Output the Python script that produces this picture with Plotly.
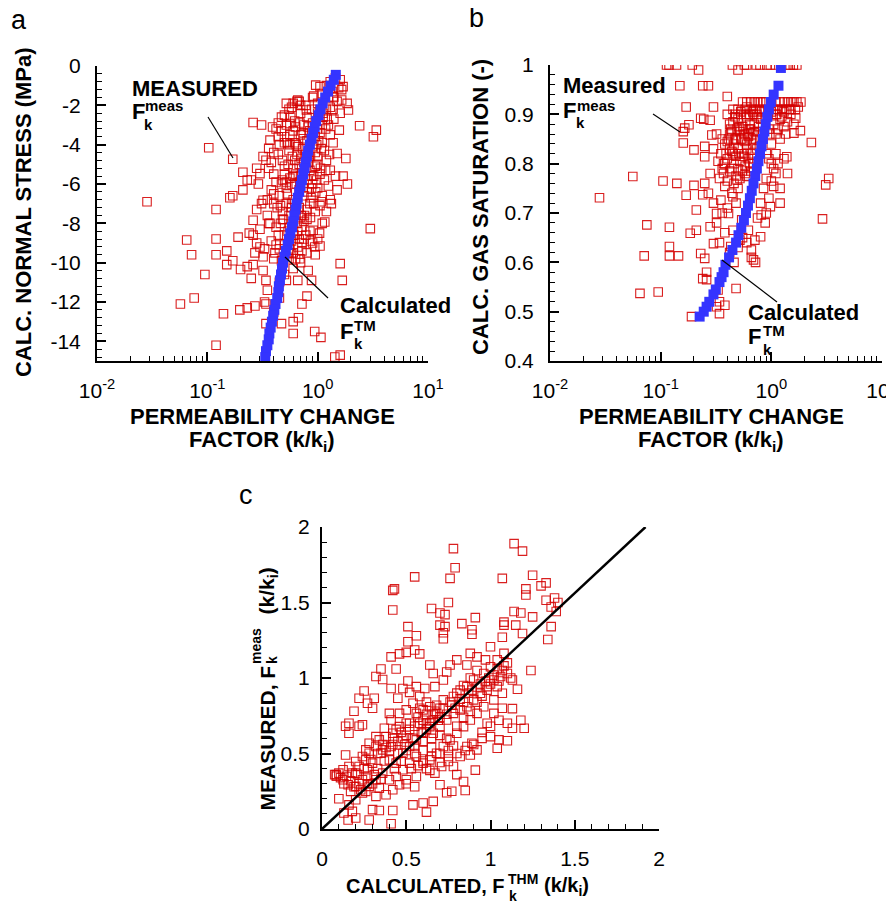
import plotly.graph_objects as go

# the page body has an 8px margin, so the figure is drawn 8px in from the corner
OFF = 8
W, H = 894 - OFF, 902 - OFF

# ---------------- data ----------------
# Panel a: permeability change factor (x) vs calc. normal stress (y)
red_a_x = [
    0.0284, 0.103, 0.17, 0.26, 0.31, 0.39, 0.21, 0.28, 0.23, 0.25,
    0.16, 0.17, 0.21, 0.12, 0.065, 0.072, 0.12, 0.12, 0.15, 0.15,
    0.19, 0.095, 0.076, 0.057, 0.12, 0.14, 0.197, 0.23, 0.27, 0.25,
    0.20, 0.17, 0.23, 0.34, 0.34, 0.34, 0.47, 0.60, 0.67, 0.60,
    0.72, 0.80, 0.66, 0.82, 0.88, 0.94, 1.07, 1.6, 1.67, 1.6,
    1.43, 3.0, 3.2, 3.4, 2.4, 1.9, 1.85, 1.86, 1.7, 1.8,
    1.5, 1.5, 1.33, 1.04, 1.16, 0.91, 0.94, 1.05, 0.86, 0.69,
    0.58, 1.57, 1.65, 1.3, 1.39, 1.05, 0.92, 0.96, 1.6, 1.7,
    1.65, 0.79, 0.68, 0.66, 0.56, 0.37, 0.36, 0.34, 0.30, 0.32,
    0.28, 0.26, 0.24, 0.30, 0.27, 0.26, 0.32,
    0.5, 0.55, 0.6, 0.62, 0.7, 0.75, 0.8, 0.85, 0.9, 0.95,
    1.0, 1.05, 1.1, 1.2, 1.25, 1.15, 1.0, 0.9, 0.8, 0.7,
    0.6, 0.5, 0.45, 0.4, 0.48, 0.55, 0.65, 0.75, 0.85, 0.95,
    1.05, 1.15, 1.25, 1.1, 1.0, 0.9, 0.8, 0.7, 0.6, 0.5,
    0.42, 0.38, 0.45, 0.52, 0.6, 0.68, 0.75, 0.85, 0.95, 1.05,
    0.8, 0.72, 0.65, 0.55, 0.48, 0.4, 0.35, 0.42, 0.5, 0.58,
    0.66, 0.75, 0.85, 0.9, 0.45, 0.38, 0.33, 0.4, 0.3, 0.36,
    0.42, 0.47, 0.58, 0.65, 0.9, 1.1, 1.2, 1.3, 1.45, 1.55,
    1.4, 1.3, 1.4, 1.3, 1.2, 1.3, 1.45, 1.3, 1.2, 1.1,
    1.0, 0.95, 0.8, 0.7, 0.6, 0.5, 0.45, 0.35, 0.33, 0.4,
    0.45, 0.52, 0.55, 0.6, 0.32, 0.28, 0.26, 0.31, 0.35, 0.29,
    0.32, 0.38, 0.44, 0.52, 0.56, 0.62, 0.68, 0.73, 0.78, 0.86,
    0.98, 1.05, 0.68, 0.58, 0.62, 0.52, 0.46, 0.56,
    0.44, 0.5, 0.56, 0.62, 0.7, 0.78, 0.88, 1.0, 0.48, 0.54,
    0.6, 0.66, 0.74, 0.82, 0.92, 0.4, 0.46, 0.52, 0.58, 0.64,
    0.7, 0.36, 0.42, 0.48, 0.54, 0.6, 0.66, 0.72, 1.12, 1.22,
    1.35, 1.5, 1.6, 0.88, 0.98, 1.08, 1.18, 1.28, 1.38, 0.76,
    0.52, 0.57, 0.63, 0.69, 0.74, 0.82, 0.88, 0.47, 0.53, 0.59,
    0.64, 0.71, 0.77, 0.83, 0.44, 0.5, 0.56, 0.63, 0.69, 0.74,
    0.81, 0.87, 0.4, 0.47, 0.53, 0.58, 0.64, 0.71, 0.43, 0.49,
    0.54, 0.61, 0.68, 0.37, 0.44, 0.5, 0.56, 0.63, 0.41, 0.47,
    1.0, 1.12, 1.18, 1.1, 1.02, 1.08, 0.95, 0.98, 1.06, 0.92,
    0.96, 0.88, 0.92, 0.8, 0.86, 0.75, 0.78, 0.72, 1.25, 1.38,
]
red_a_y = [
    -6.9, -4.16, -4.74, -2.87, -3.0, -3.1, -5.4, -5.2, -5.8, -5.8,
    -6.7, -6.6, -6.3, -7.3, -8.85, -9.6, -8.8, -9.6, -9.4, -10.1,
    -8.7, -10.6, -11.8, -12.1, -14.2, -12.6, -12.4, -12.3, -12.2, -10.8,
    -10.35, -9.9, -10.2, -10.9, -12.1, -13.1, -13.1, -13.0, -12.8, -13.6,
    -12.1, -11.7, -10.9, -10.4, -10.9, -13.5, -13.8, -10.05, -10.9, -14.7,
    -14.8, -8.27, -3.6, -3.26, -3.04, -2.24, -1.9, -6.0, -5.6, -4.7,
    -6.3, -4.45, -7.0, -8.5, -7.93, -8.35, -9.2, -9.15, -8.9, -9.8,
    -9.55, -3.26, -1.73, -1.05, -1.56, -1.05, -1.53, -0.97, -0.7, -1.05,
    -1.2, -2.24, -1.8, -1.73, -2.92, -3.77, -4.19, -4.79, -5.47, -6.83,
    -7.3, -7.84, -8.5, -9.2, -9.5, -10.1, -9.7,
    -2.5, -2.2, -1.9, -2.8, -2.4, -3.0, -2.6, -3.3, -2.9, -3.6,
    -3.2, -2.6, -3.9, -2.2, -3.0, -4.3, -4.6, -4.1, -3.8, -3.5,
    -3.3, -3.6, -4.0, -4.4, -4.8, -4.3, -4.5, -4.9, -5.3, -5.1,
    -5.5, -5.8, -6.1, -6.6, -6.2, -6.0, -5.8, -5.6, -5.2, -5.5,
    -5.9, -6.3, -6.6, -6.2, -6.8, -7.2, -6.6, -7.0, -7.4, -7.1,
    -7.8, -8.2, -8.0, -7.6, -7.4, -7.0, -7.6, -8.2, -8.6, -8.9,
    -9.2, -8.8, -8.4, -9.0, -9.3, -8.9, -9.3, -9.8, -8.3, -5.2,
    -3.2, -2.6, -2.1, -1.8, -1.6, -1.4, -1.0, -0.8, -0.6, -1.1,
    -1.6, -2.1, -2.7, -3.5, -4.8, -5.3, -5.6, -6.8, -7.4, -8.0,
    -8.8, -9.6, -9.5, -10.0, -10.3, -10.6, -11.0, -11.4, -12.0, -12.5,
    -11.8, -10.9, -9.8, -9.5, -10.4, -9.0, -8.6, -7.0, -6.8, -6.0,
    -4.6, -4.9, -3.6, -3.0, -4.0, -4.8, -5.0, -4.2, -5.2, -4.6,
    -4.0, -3.4, -6.3, -6.0, -7.5, -7.0, -8.0, -8.2,
    -2.9, -3.9, -3.5, -3.9, -2.0, -2.0, -2.2, -2.4, -5.8, -5.0,
    -5.6, -4.1, -3.7, -4.4, -3.4, -6.5, -7.1, -5.9, -7.2, -6.0,
    -7.7, -8.0, -9.1, -7.8, -9.5, -8.6, -8.4, -9.4, -2.6, -2.7,
    -1.3, -1.8, -2.4, -5.6, -5.8, -6.9, -5.3, -4.5, -3.9, -7.6,
    -1.9, -2.6, -3.1, -2.9, -3.4, -3.1, -3.7, -3.3, -3.9, -4.6,
    -4.0, -4.7, -4.5, -4.9, -4.5, -5.1, -5.7, -5.5, -5.9, -6.2,
    -6.4, -6.7, -5.5, -6.0, -6.5, -7.0, -7.3, -7.6, -7.2, -7.8,
    -8.4, -8.6, -8.8, -8.0, -8.6, -9.1, -9.3, -9.8, -9.5, -9.9,
    -1.9, -2.4, -3.2, -3.0, -3.8, -4.2, -4.4, -5.0, -5.2, -5.6,
    -6.4, -6.2, -7.0, -7.3, -7.7, -7.9, -8.6, -9.0, -1.6, -2.2,
]
blue_a_y = [
    -0.45, -0.7, -1.0, -1.3, -1.6, -1.9, -2.2, -2.5, -2.8, -3.1,
    -3.4, -3.7, -4.0, -4.3, -4.6, -4.9, -5.2, -5.5, -5.8, -6.1,
    -6.4, -6.7, -7.0, -7.3, -7.6, -7.9, -8.2, -8.5, -8.8, -9.1,
    -9.4, -9.7, -10.0, -10.3, -10.6, -10.9, -11.2, -11.5, -11.8, -12.1,
    -12.4, -12.7, -13.0, -13.3, -13.6, -13.9, -14.2, -14.5, -14.8,
]
blue_a_x = [
    1.46, 1.40, 1.31, 1.24, 1.17, 1.11, 1.06, 1.02, 0.97, 0.94,
    0.91, 0.88, 0.85, 0.82, 0.80, 0.78, 0.76, 0.74, 0.72, 0.70,
    0.68, 0.66, 0.645, 0.63, 0.615, 0.60, 0.585, 0.565, 0.55, 0.535,
    0.515, 0.50, 0.485, 0.475, 0.465, 0.455, 0.445, 0.44, 0.43, 0.415,
    0.405, 0.395, 0.385, 0.375, 0.365, 0.36, 0.35, 0.34, 0.335,
]

# Panel b: permeability change factor (x) vs calc. gas saturation (y)
red_b_x = [
    0.113, 0.119, 0.139, 0.193, 0.445, 0.57, 0.6, 0.73, 0.79, 0.91,
    0.98, 1.09, 1.38, 1.48, 1.58, 1.7, 0.22, 0.5, 0.149, 0.24,
    0.27, 0.17, 0.3, 0.4, 0.16, 0.165, 0.18, 0.23, 0.245, 0.28,
    0.16, 0.2, 0.25, 0.25, 0.29, 0.056, 0.028, 0.105, 0.14, 0.17,
    0.2, 0.25, 0.24, 0.21, 0.21, 0.185, 0.075, 0.12, 0.12, 0.12,
    0.071, 0.145, 0.065, 0.095, 0.19, 0.23, 0.25, 0.26, 0.24, 0.26,
    0.33, 0.34, 0.32, 0.38, 0.34, 0.48, 2.3, 1.83, 1.66, 3.3,
    3.1, 2.9, 1.4, 1.2, 0.98, 0.81, 0.71, 0.66, 0.69, 0.8,
    0.88, 1.05, 1.38, 1.6, 0.45, 0.41, 0.32, 0.35, 0.38, 0.45,
    0.52, 0.43, 0.3, 0.28, 0.37, 0.49, 0.6, 0.54, 0.62,
    0.55, 0.6, 0.65, 0.7, 0.75, 0.8, 0.85, 0.9, 1.0, 1.1,
    1.2, 1.3, 1.4, 1.5, 1.6, 1.7, 1.85,
    0.45, 0.5, 0.58, 0.66, 0.72, 0.78, 0.88, 1.05, 1.15, 1.25,
    1.35, 1.5, 1.65,
    0.4, 0.45, 0.5, 0.55, 0.6, 0.65, 0.7, 0.75, 0.8, 0.42,
    0.48, 0.52, 0.58, 0.62, 0.68, 0.72, 0.78, 0.38, 0.44, 0.5,
    0.56, 0.6, 0.66, 0.4, 0.46, 0.52, 0.58, 0.64, 0.7, 0.35,
    0.36, 0.42, 0.48, 0.55, 0.62, 0.33, 0.3, 0.32, 0.28, 0.95,
    1.05, 1.1, 1.2, 1.3, 1.5, 1.6, 1.0, 1.1, 1.2, 0.95,
    1.05, 0.9, 1.0, 1.1, 0.85, 0.95, 0.8, 0.9, 0.75, 1.2,
    1.3, 0.44, 0.5, 0.48, 0.4, 0.36, 0.32, 0.3, 0.27, 0.38,
    0.34, 0.42, 0.46, 0.5, 0.55, 0.6, 0.66, 0.72,
    0.47, 0.53, 0.59, 0.64, 0.69, 0.74, 0.43, 0.49, 0.56, 0.63,
    0.41, 0.47, 0.54, 0.61, 0.68, 0.39, 0.45, 0.51, 0.57, 0.37,
    0.42, 0.47, 0.53, 0.6, 0.68, 0.74, 0.82, 0.92, 1.0, 1.12,
    1.24, 1.4, 0.44, 0.51, 0.57, 0.64, 0.7, 0.77, 0.84, 0.4,
    0.46, 0.53, 0.6, 0.66, 0.74, 0.36, 0.42, 0.48, 0.54, 0.62,
    0.68, 0.38, 0.44, 0.5, 0.58, 0.65, 0.34, 0.4, 0.46, 0.52,
    1.1, 1.3, 1.45, 1.75, 0.97, 1.15, 1.35, 1.0, 1.15, 0.9,
]
red_b_y = [
    1.0, 1.0, 1.0, 1.0, 1.0, 1.0, 1.0, 1.0, 1.0, 1.0,
    1.0, 1.0, 1.0, 1.0, 1.0, 1.0, 0.99, 0.99, 0.958, 0.958,
    0.958, 0.915, 0.915, 0.936, 0.865, 0.872, 0.879, 0.892, 0.89, 0.888,
    0.842, 0.828, 0.835, 0.814, 0.858, 0.774, 0.731, 0.765, 0.76, 0.736,
    0.756, 0.76, 0.737, 0.706, 0.665, 0.659, 0.676, 0.671, 0.632, 0.613,
    0.613, 0.613, 0.537, 0.54, 0.49, 0.618, 0.608, 0.58, 0.567, 0.565,
    0.544, 0.52, 0.51, 0.513, 0.496, 0.547, 0.843, 0.867, 0.892, 0.77,
    0.757, 0.688, 0.78, 0.72, 0.713, 0.696, 0.645, 0.625, 0.605, 0.652,
    0.68, 0.754, 0.814, 0.862, 0.665, 0.699, 0.699, 0.726, 0.754, 0.733,
    0.645, 0.632, 0.638, 0.672, 0.78, 0.767, 0.774, 0.686, 0.665,
    0.925, 0.925, 0.925, 0.925, 0.925, 0.925, 0.925, 0.925, 0.925, 0.925,
    0.925, 0.925, 0.925, 0.925, 0.925, 0.925, 0.925,
    0.91, 0.91, 0.91, 0.91, 0.91, 0.91, 0.91, 0.91, 0.91, 0.91,
    0.91, 0.91, 0.91,
    0.9, 0.885, 0.89, 0.875, 0.895, 0.87, 0.88, 0.865, 0.89, 0.86,
    0.85, 0.865, 0.845, 0.855, 0.84, 0.85, 0.835, 0.84, 0.825, 0.83,
    0.815, 0.83, 0.82, 0.81, 0.8, 0.805, 0.795, 0.8, 0.81, 0.82,
    0.79, 0.785, 0.775, 0.785, 0.775, 0.805, 0.83, 0.86, 0.78, 0.87,
    0.88, 0.86, 0.89, 0.875, 0.9, 0.88, 0.84, 0.82, 0.85, 0.81,
    0.79, 0.77, 0.765, 0.78, 0.75, 0.73, 0.72, 0.7, 0.69, 0.75,
    0.81, 0.74, 0.75, 0.72, 0.71, 0.7, 0.68, 0.72, 0.74, 0.66,
    0.64, 0.62, 0.6, 0.63, 0.65, 0.64, 0.61, 0.6,
    0.9, 0.9, 0.9, 0.9, 0.9, 0.9, 0.87, 0.87, 0.87, 0.87,
    0.85, 0.85, 0.85, 0.86, 0.86, 0.82, 0.82, 0.82, 0.82, 0.8,
    0.88, 0.895, 0.905, 0.915, 0.905, 0.895, 0.905, 0.895, 0.905, 0.9,
    0.895, 0.885, 0.865, 0.875, 0.86, 0.88, 0.865, 0.875, 0.86, 0.845,
    0.84, 0.85, 0.84, 0.85, 0.83, 0.85, 0.83, 0.815, 0.82, 0.81,
    0.8, 0.8, 0.79, 0.79, 0.78, 0.785, 0.77, 0.765, 0.76, 0.77,
    0.9, 0.905, 0.91, 0.915, 0.86, 0.87, 0.86, 0.8, 0.8, 0.82,
]
blue_b_x = [
    1.22, 1.16, 1.05, 0.99, 0.95, 0.92, 0.89, 0.865, 0.84, 0.815,
    0.79, 0.765, 0.74, 0.715, 0.69, 0.665, 0.64, 0.615, 0.59, 0.565,
    0.535, 0.505, 0.48, 0.445, 0.415, 0.385, 0.37, 0.355, 0.34, 0.315,
    0.30, 0.275, 0.26, 0.245, 0.225,
]
blue_b_y = [
    0.994, 0.958, 0.94, 0.925, 0.91, 0.895, 0.88, 0.865, 0.85, 0.835,
    0.82, 0.805, 0.79, 0.775, 0.76, 0.745, 0.73, 0.715, 0.70, 0.685,
    0.67, 0.655, 0.64, 0.625, 0.61, 0.595, 0.58, 0.57, 0.56, 0.545,
    0.535, 0.52, 0.51, 0.50, 0.49,
]

# Panel c: calculated (x) vs measured (y) permeability change factor
red_c_x = [
    0.78, 0.79, 0.76, 0.55, 1.14, 1.19, 1.07, 1.25, 1.30, 1.33,
    1.21, 1.21, 0.43, 0.42, 0.42, 0.75, 0.65, 0.70, 0.73, 0.51,
    0.70, 0.73, 0.72, 0.72, 0.83, 0.91, 0.89, 0.89, 0.56, 0.51,
    0.55, 0.58, 0.50, 0.46, 0.41, 0.44, 0.35, 0.36, 0.32, 0.41,
    0.51, 0.52, 0.48, 0.45, 0.25, 0.22, 0.27, 0.30, 0.31, 0.19,
    0.16, 0.14, 0.16, 0.22, 0.24, 0.14, 0.085, 0.1, 0.13, 0.155,
    0.2, 0.28, 0.41, 0.42, 0.34, 0.30, 0.62, 0.66, 0.60, 0.54,
    0.74, 0.77, 0.85, 0.84, 0.80, 0.91, 1.34, 1.36, 1.39, 1.36,
    1.33, 1.38, 1.4, 1.25, 1.18, 1.14, 1.15, 1.08, 1.08, 1.19,
    1.07, 1.24, 1.13, 1.16, 1.13, 1.18, 1.2, 1.13, 1.1, 1.1,
    1.05, 1.04, 1.0, 0.98, 1.02, 1.07, 0.95, 0.89, 0.92, 0.86,
    0.88, 0.82, 0.78, 0.75, 0.71, 0.67, 0.64, 0.70, 0.56, 0.5,
    0.46, 0.42, 0.38, 0.32, 0.26, 0.2, 0.18, 0.125, 0.155, 0.17,
    0.24, 0.27, 0.30, 0.36, 0.41, 0.38, 0.34, 0.42, 0.46, 0.5,
    0.56, 0.6, 0.64, 0.68, 0.72, 0.78, 0.82, 0.86, 0.9, 0.96,
    1.0, 1.04, 1.08, 1.0, 0.97, 0.92, 0.88, 0.86, 0.8, 0.76,
    0.74, 0.72, 0.67, 0.64, 0.66, 0.61, 0.56, 0.58, 0.54, 0.50,
    0.46, 0.40, 0.41, 0.37, 0.32, 0.28, 0.26, 0.24, 0.2, 0.16,
    0.1, 0.125, 0.145, 0.2, 0.22, 0.26, 0.28, 0.32, 0.35, 0.4,
    0.44, 0.48, 0.52, 0.56, 0.6, 0.64, 0.66, 0.7, 0.74, 0.78,
    0.82, 0.86, 0.9, 0.94, 0.98, 1.02, 1.06, 1.1, 1.04, 1.07,
    1.02, 0.96, 0.92, 0.88, 0.84, 0.8, 0.76, 0.72, 0.68, 0.64,
    0.6, 0.56, 0.52, 0.48, 0.44, 0.4, 0.36, 0.32, 0.28, 0.24,
    0.2, 0.16, 0.18, 0.34, 0.085, 0.075,
    0.45, 0.5, 0.55, 0.6, 0.62, 0.58, 0.52, 0.48, 0.42, 0.38,
    0.55, 0.6, 0.65, 0.7, 0.62, 0.66, 0.7, 0.68, 0.62, 0.58,
    0.45, 0.5, 0.55, 0.6, 0.65, 0.7, 0.75, 0.78, 0.74, 0.8,
    0.84, 0.88, 0.92, 0.95, 0.98, 1.0, 1.05, 1.08, 1.1, 1.12,
    0.92, 0.88, 0.84, 0.8, 0.76, 0.7, 0.66, 0.3, 0.35, 0.22,
    0.27, 0.33, 0.37, 0.43, 0.47, 0.53, 0.57, 0.62, 0.5, 0.55,
    0.42, 0.47, 0.52, 0.57, 0.62, 0.67, 0.72, 0.77, 0.82, 0.87,
    0.92, 0.97, 1.02, 1.07, 0.44, 0.49, 0.54, 0.59, 0.64, 0.69,
    0.74, 0.79, 0.84, 0.89, 0.94, 0.99, 1.04, 0.4, 0.36, 0.33,
    0.29, 0.25, 0.21, 0.17, 0.13, 0.11, 0.19, 0.23, 0.27, 0.31,
    0.6, 0.65, 0.7, 0.75, 0.8, 0.85, 0.9, 0.95, 1.0, 1.05,
]
red_c_y = [
    1.857, 1.73, 1.66, 1.67, 1.89, 1.84, 1.66, 1.68, 1.61, 1.63,
    1.59, 1.55, 1.59, 1.58, 1.45, 1.5, 1.46, 1.43, 1.42, 1.34,
    1.35, 1.34, 1.3, 1.26, 1.36, 1.4, 1.32, 1.29, 1.28, 1.24,
    1.185, 1.16, 1.17, 1.16, 1.14, 1.06, 1.06, 0.99, 1.01, 0.93,
    0.98, 0.905, 0.93, 0.866, 0.914, 0.866, 0.833, 0.8, 0.866, 0.78,
    0.7, 0.68, 0.634, 0.68, 0.69, 0.49, 0.36, 0.2, 0.106, 0.06,
    0.073, 0.06, 0.035, 0.123, 0.123, 0.128, 0.112, 0.183, 0.172, 0.16,
    0.24, 0.25, 0.255, 0.315, 0.36, 0.39, 1.255, 1.34, 1.44, 1.47,
    1.515, 1.53, 1.5, 1.405, 1.43, 1.44, 1.35, 1.37, 1.35, 1.295,
    1.27, 1.05, 0.987, 0.925, 0.797, 0.72, 0.667, 0.667, 0.7, 0.584,
    0.59, 0.535, 0.612, 0.7, 0.766, 0.8, 0.6, 0.568, 0.524, 0.546,
    0.49, 0.48, 0.414, 0.447, 0.414, 0.37, 0.388, 0.293, 0.348, 0.326,
    0.293, 0.26, 0.227, 0.216, 0.249, 0.282, 0.37, 0.326, 0.293, 0.249,
    0.326, 0.392, 0.436, 0.524, 0.546, 0.612, 0.59, 0.634, 0.678, 0.7,
    0.766, 0.789, 0.81, 0.766, 0.855, 0.877, 0.92, 0.943, 0.987, 1.03,
    1.075, 1.12, 1.163, 1.207, 1.12, 1.14, 1.163, 1.086, 1.12, 1.086,
    1.04, 0.987, 0.943, 1.086, 1.03, 0.93, 0.943, 0.877, 0.833, 0.789,
    0.766, 0.766, 0.722, 0.667, 0.612, 0.568, 0.524, 0.48, 0.447, 0.414,
    0.37, 0.392, 0.348, 0.37, 0.414, 0.458, 0.502, 0.546, 0.502, 0.458,
    0.436, 0.502, 0.546, 0.59, 0.634, 0.678, 0.634, 0.678, 0.722, 0.766,
    0.789, 0.81, 0.855, 0.899, 0.943, 0.987, 1.01, 1.03, 0.943, 0.899,
    0.855, 0.81, 0.766, 0.722, 0.678, 0.634, 0.59, 0.546, 0.502, 0.458,
    0.436, 0.48, 0.436, 0.392, 0.348, 0.326, 0.37, 0.326, 0.282, 0.238,
    0.194, 0.16, 0.117, 0.271, 0.35, 0.36,
    0.58, 0.62, 0.68, 0.72, 0.76, 0.7, 0.66, 0.6, 0.56, 0.54,
    0.55, 0.58, 0.6, 0.62, 0.66, 0.72, 0.74, 0.82, 0.84, 0.8,
    0.5, 0.52, 0.5, 0.52, 0.54, 0.5, 0.52, 0.55, 0.6, 0.68,
    0.74, 0.78, 0.84, 0.88, 0.92, 0.96, 0.98, 1.08, 1.1, 1.0,
    1.05, 1.0, 0.95, 0.9, 0.84, 0.8, 0.76, 0.3, 0.33, 0.3,
    0.35, 0.4, 0.45, 0.4, 0.45, 0.4, 0.42, 0.4, 0.3, 0.28,
    0.6, 0.64, 0.7, 0.74, 0.7, 0.78, 0.8, 0.82, 0.86, 0.9,
    0.94, 0.98, 1.02, 1.05, 0.66, 0.56, 0.6, 0.64, 0.7, 0.72,
    0.76, 0.8, 0.84, 0.92, 0.96, 1.0, 1.06, 0.52, 0.56, 0.5,
    0.46, 0.4, 0.36, 0.32, 0.3, 0.34, 0.28, 0.26, 0.3, 0.36,
    0.45, 0.48, 0.44, 0.48, 0.5, 0.52, 0.56, 0.64, 0.68, 0.72,
]
line_c_x = [0.0, 1.92]
line_c_y = [0.0, 2.0]

log_tick_vals = [0.01, 0.1, 1, 10]
log_tick_text = ["10<sup>-2</sup>", "10<sup>-1</sup>", "10<sup>0</sup>", "10<sup>1</sup>"]
stress_ticks = [0, -2, -4, -6, -8, -10, -12, -14]
sat_ticks = [0.4, 0.5, 0.6, 0.7, 0.8, 0.9, 1.0]
c_ticks = [0, 0.5, 1, 1.5, 2]

# ---------------- styling ----------------
FONT = "Arial, 'Liberation Sans', sans-serif"
RED = "rgba(212,0,0,0.88)"
BLUE = "#3434ff"


def px(x):
    # reference-window pixel -> paper fraction
    return (x - OFF) / W


def py(y):
    return 1 - (y - OFF) / H


log_minor = [m * 10 ** e for e in (-2, -1, 0) for m in range(2, 10)]


def axis(**kw):
    d = dict(
        showline=True, linecolor="black", linewidth=2, mirror=False,
        ticks="inside", ticklen=9, tickwidth=1.5, tickcolor="black",
        showgrid=False, zeroline=False, automargin=False,
        tickfont=dict(size=21, color="black", family=FONT),
        ticklabelstandoff=10, ticklabeloverflow="allow",
    )
    d.update(kw)
    return d


red_marker = dict(symbol="square-open", size=8.5, color=RED, line=dict(width=1.1, color=RED))
blue_marker = dict(symbol="square", size=10, color=BLUE, line=dict(width=0))

fig = go.Figure()
fig.add_trace(go.Scatter(x=red_a_x, y=red_a_y, mode="markers", marker=red_marker, xaxis="x", yaxis="y"))
fig.add_trace(go.Scatter(x=blue_a_x, y=blue_a_y, mode="markers", marker=blue_marker, xaxis="x", yaxis="y"))
fig.add_trace(go.Scatter(x=red_b_x, y=red_b_y, mode="markers", marker=red_marker, xaxis="x2", yaxis="y2"))
fig.add_trace(go.Scatter(x=blue_b_x, y=blue_b_y, mode="markers", marker=blue_marker, xaxis="x2", yaxis="y2"))
fig.add_trace(go.Scatter(x=red_c_x, y=red_c_y, mode="markers", marker=red_marker, xaxis="x3", yaxis="y3"))
fig.add_trace(go.Scatter(x=line_c_x, y=line_c_y, mode="lines", line=dict(color="black", width=2.5), xaxis="x3", yaxis="y3"))

minor_style = dict(ticks="inside", ticklen=5, tickwidth=1, tickcolor="black", showgrid=False)

fig.update_layout(
    width=W, height=H, autosize=False, showlegend=False,
    margin=dict(l=0, r=0, t=0, b=0, autoexpand=False),
    paper_bgcolor="white", plot_bgcolor="white",
    font=dict(family=FONT, color="black"),
    xaxis=axis(domain=[px(97), px(428)], anchor="y", type="log", range=[-2, 1],
               tickmode="array", tickvals=log_tick_vals, ticktext=log_tick_text,
               minor=dict(tickmode="array", tickvals=log_minor, **minor_style)),
    yaxis=axis(domain=[py(361), py(66)], anchor="x", range=[-15, 0],
               tickmode="array", tickvals=stress_ticks, ticktext=[str(v) for v in stress_ticks],
               minor=dict(tickmode="linear", tick0=0, dtick=0.4, **minor_style)),
    xaxis2=axis(domain=[px(550), px(882)], anchor="y2", type="log", range=[-2, 1],
                tickmode="array", tickvals=log_tick_vals, ticktext=log_tick_text,
                minor=dict(tickmode="array", tickvals=log_minor, **minor_style)),
    yaxis2=axis(domain=[py(361), py(65)], anchor="x2", range=[0.4, 1.0],
                tickmode="array", tickvals=sat_ticks, ticktext=["0.4", "0.5", "0.6", "0.7", "0.8", "0.9", "1"],
                minor=dict(tickmode="linear", tick0=0.4, dtick=0.02, **minor_style)),
    xaxis3=axis(domain=[px(322), px(659)], anchor="y3", range=[0, 2],
                tickmode="array", tickvals=c_ticks, ticktext=["0", "0.5", "1", "1.5", "2"],
                minor=dict(tickmode="linear", tick0=0, dtick=0.1, **minor_style)),
    yaxis3=axis(domain=[py(829), py(527)], anchor="x3", range=[0, 2],
                tickmode="array", tickvals=c_ticks, ticktext=["0", "0.5", "1", "1.5", "2"],
                ticklabelstandoff=6,
                minor=dict(tickmode="linear", tick0=0, dtick=0.1, **minor_style)),
)

annotations = []


def txt(x, y, s, size=22, bold=True, xanchor="center", yanchor="middle", angle=0):
    annotations.append(dict(
        x=px(x), y=py(y), xref="paper", yref="paper", text=s, showarrow=False,
        xanchor=xanchor, yanchor=yanchor, textangle=angle, borderpad=0,
        font=dict(size=size, family=FONT, color="black", weight="bold" if bold else "normal"),
    ))


# panel letters
txt(19, 20, "a", size=27, bold=False)
txt(476, 18, "b", size=27, bold=False)
txt(246, 495, "c", size=27, bold=False)

# axis titles panel a / b
txt(262, 416, "PERMEABILITY CHANGE")
txt(262, 441, "FACTOR (k/k<sub>i</sub>)")
txt(23, 212, "CALC. NORMAL STRESS (MPa)", angle=-90)
txt(711, 416, "PERMEABILITY CHANGE")
txt(711, 441, "FACTOR (k/k<sub>i</sub>)")
txt(480, 207, "CALC. GAS SATURATION (-)", angle=-90)

# axis titles panel c
txt(506, 886, "CALCULATED, F", size=20, xanchor="right")
txt(507, 879, "THM", size=14, xanchor="left")
txt(508, 896, "k", size=14, xanchor="left")
txt(543, 886, "(k/k<sub>i</sub>)", size=20, xanchor="left")
txt(267, 812, "MEASURED, F", size=21, angle=-90, yanchor="bottom")
txt(256, 665, "meas", size=14, angle=-90, yanchor="bottom")
txt(272, 665, "k", size=14, angle=-90, yanchor="bottom")
txt(267, 567, "(k/k<sub>i</sub>)", size=21, angle=-90, yanchor="top")

# in-plot labels panel a
txt(131, 88, "MEASURED", xanchor="left")
txt(131, 112, "F", xanchor="left")
txt(144, 106, "meas", size=15, xanchor="left")
txt(143, 125, "k", size=15, xanchor="left")
txt(339, 306, "Calculated", xanchor="left")
txt(339, 331, "F", xanchor="left")
txt(353, 325, "TM", size=15, xanchor="left")
txt(353, 343, "k", size=15, xanchor="left")

# in-plot labels panel b
txt(562, 86, "Measured", xanchor="left")
txt(562, 111, "F", xanchor="left")
txt(576, 106, "meas", size=15, xanchor="left")
txt(575, 123, "k", size=15, xanchor="left")
txt(747, 312, "Calculated", xanchor="left")
txt(747, 336, "F", xanchor="left")
txt(762, 330, "TM", size=15, xanchor="left")
txt(762, 349, "k", size=15, xanchor="left")

fig.update_layout(annotations=annotations)

# leader lines
leaders = [((208, 117), (233, 158)), ((285, 257), (328, 298)),
           ((653, 114), (680, 132)), ((722, 260), (777, 302))]
for (x0, y0), (x1, y1) in leaders:
    fig.add_shape(type="line", xref="paper", yref="paper",
                  x0=px(x0), y0=py(y0), x1=px(x1), y1=py(y1),
                  line=dict(color="black", width=1.2))

fig.write_html("out.html")
